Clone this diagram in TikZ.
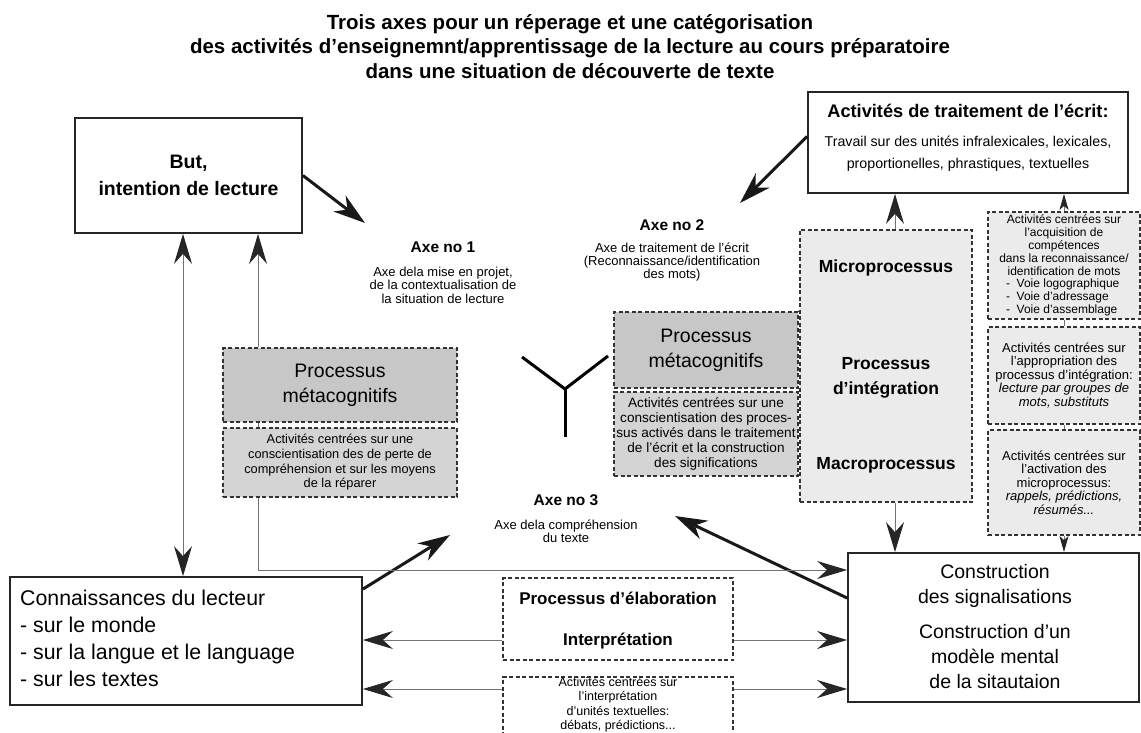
\documentclass[tikz,border=0pt]{standalone}
\usepackage{fontspec}
\setmainfont{Liberation Sans}
\usetikzlibrary{arrows.meta,calc}

\tikzset{
  box/.style={draw=black!85, line width=1.8pt, fill=white, inner sep=0pt},
  dbox/.style={draw=black!80, line width=1.3pt, dash pattern=on 4pt off 2.5pt, inner sep=0pt},
  darkbox/.style={dbox, fill=black!22},
  shadebox/.style={dbox, fill=black!17},
  lightbox/.style={dbox, fill=black!8},
  txt/.style={inner sep=0pt, align=center},
  link/.style={draw=black!55, line width=1pt},
  bigtip/.tip={Stealth[length=32pt,width=20pt,inset=10pt]},
  thintip/.tip={Stealth[length=30pt,width=18pt,inset=10pt,color=black!85]},
  smalltip/.tip={Stealth[length=16pt,width=9pt,inset=4pt,color=black!85]},
  bigarrow/.style={draw=black!90, line width=3pt, -bigtip},
  thinarrow/.style={link, -thintip},
}

\begin{document}
\begin{tikzpicture}[x=1pt,y=-1pt]
  \useasboundingbox (0,0) rectangle (1141,733);
  \clip (0,0) rectangle (1141,733);

  % titre
  \node[txt, font=\fontsize{20.5}{24.5}\selectfont\bfseries] (title) at (570,46.5)
    {Trois axes pour un réperage et une catégorisation\\
     des activités d’enseignemnt/apprentissage de la lecture au cours préparatoire\\
     dans une situation de découverte de texte};

  % boites principales
  \node[box, minimum width=227pt, minimum height=115pt] (but) at (188.5,175.5) {};
  \node[txt, font=\fontsize{19.5}{27}\selectfont\bfseries] at (but) {But,\\intention de lecture};

  \node[box, minimum width=320pt, minimum height=101pt] (trait) at (968,142.5) {};
  \node[txt, font=\fontsize{18.2}{20}\selectfont\bfseries] at (968,111) {Activités de traitement de l’écrit:};
  \node[txt, font=\fontsize{14.2}{22}\selectfont] at (968,154)
    {Travail sur des unités infralexicales, lexicales,\\proportionelles, phrastiques, textuelles};

  \node[box, minimum width=352pt, minimum height=128pt] (conn) at (186,641) {};
  \node[txt, align=left, anchor=west, font=\fontsize{21.3}{27}\selectfont] at (20,638.5)
    {Connaissances du lecteur\\- sur le monde\\- sur la langue et le language\\- sur les textes};

  \node[box, minimum width=291pt, minimum height=149pt] (constr) at (993.5,627.5) {};
  \node[txt, font=\fontsize{19.5}{25}\selectfont] at (995,585.5) {Construction\\des signalisations};
  \node[txt, font=\fontsize{19.5}{25}\selectfont] at (995,657) {Construction d’un\\modèle mental\\de la sitautaion};

  % processus
  \node[lightbox, minimum width=172pt, minimum height=272pt] (micro) at (886,366) {};
  \node[txt, font=\fontsize{17.5}{20}\selectfont\bfseries] at (886,268) {Microprocessus};
  \node[txt, font=\fontsize{17.5}{25}\selectfont\bfseries] at (886,377.5) {Processus\\d’intégration};
  \node[txt, font=\fontsize{17.5}{20}\selectfont\bfseries] at (886,465) {Macroprocessus};

  \node[lightbox, minimum width=152pt, minimum height=107pt] (ra) at (1064,265.5) {};
  \node[txt, font=\fontsize{12}{12.8}\selectfont] at (ra)
    {Activités centrées sur\\l’acquisition de\\compétences\\dans la reconnaissance/\\identification de mots\\
     \makebox[116pt][l]{-\ \ Voie logographique}\\
     \makebox[116pt][l]{-\ \ Voie d’adressage}\\
     \makebox[116pt][l]{-\ \ Voie d’assemblage}};
  \node[lightbox, minimum width=152pt, minimum height=97pt] (rb) at (1064,375.5) {};
  \node[txt, font=\fontsize{13}{13.5}\selectfont] at (rb)
    {Activités centrées sur\\l’appropriation des\\processus d’intégration:\\
     \textit{lecture par groupes de}\\\textit{mots, substituts}};
  \node[lightbox, minimum width=152pt, minimum height=105pt] (rc) at (1064,482.5) {};
  \node[txt, font=\fontsize{13}{13.5}\selectfont] at (rc)
    {Activités centrées sur\\l’activation des\\microprocessus:\\
     \textit{rappels, prédictions,}\\\textit{résumés...}};

  \node[darkbox, minimum width=234pt, minimum height=74pt] (gone) at (340,385) {};
  \node[txt, font=\fontsize{19.5}{25}\selectfont] at (gone) {Processus\\métacognitifs};
  \node[shadebox, minimum width=234pt, minimum height=69pt] (gonea) at (340,462.5) {};
  \node[txt, font=\fontsize{12.8}{14.6}\selectfont] at (gonea)
    {Activités centrées sur une\\conscientisation des de perte de\\compréhension et sur les moyens\\de la réparer};

  \node[darkbox, minimum width=184pt, minimum height=76pt] (gtwo) at (706,350) {};
  \node[txt, font=\fontsize{19.5}{25}\selectfont] at (gtwo) {Processus\\métacognitifs};
  \node[shadebox, minimum width=184pt, minimum height=84pt] (gtwob) at (706,434) {};
  \node[txt, font=\fontsize{13.6}{15}\selectfont] at (gtwob)
    {Activités centrées sur une\\conscientisation des proces-\\sus activés dans le traitement\\de l’écrit et la construction\\des significations};

  \node[dbox, fill=white, minimum width=230pt, minimum height=82pt] (elab) at (618,619) {};
  \node[txt, font=\fontsize{17}{20}\selectfont\bfseries] at (618,598) {Processus d’élaboration};
  \node[txt, font=\fontsize{17}{20}\selectfont\bfseries] at (618,641) {Interprétation};
  \node[dbox, fill=white, minimum width=230pt, minimum height=70pt] (interp) at (618,712) {};
  \node[txt, font=\fontsize{12.5}{14.5}\selectfont] at (618,704.5)
    {Activités centrées sur\\l’interprétation\\d’unités textuelles:\\débats, prédictions...};

  % les trois axes
  \node[txt, font=\fontsize{15.5}{18}\selectfont\bfseries] (axeone) at (443,247) {Axe no 1};
  \node[txt, font=\fontsize{13}{13.4}\selectfont] at (443,285)
    {Axe dela mise en projet,\\de la contextualisation de\\la situation de lecture};
  \node[txt, font=\fontsize{15.5}{18}\selectfont\bfseries] (axetwo) at (672,225) {Axe no 2};
  \node[txt, font=\fontsize{13}{13.4}\selectfont] at (672,262)
    {Axe de traitement de l’écrit\\(Reconnaissance/identification\\des mots)};
  \node[txt, font=\fontsize{15.5}{18}\selectfont\bfseries] (axethree) at (566,500) {Axe no 3};
  \node[txt, font=\fontsize{13}{13.4}\selectfont] at (566,531)
    {Axe dela compréhension\\du texte};

  \draw[line width=3pt] (522,357) -- (565,389) -- (608,356);
  \draw[line width=3pt] (565,389) -- (565,437);

  % points de repere
  \coordinate (tipone) at (365,223);
  \coordinate (tiptwo) at (740,203);
  \coordinate (tipthreel) at (450,535);
  \coordinate (tipthreer) at (675,516);
  \coordinate (gl) at (258,0);
  \coordinate (dl) at (183,0);
  \coordinate (mx) at (895,0);
  \coordinate (lowline) at (0,570);
  \coordinate (midline) at (0,640);
  \coordinate (botline) at (0,689);

  % fleches epaisses
  \draw[bigarrow] (but.east) -- (tipone);
  \draw[bigarrow] ([yshift=6pt]trait.west) -- (tiptwo);
  \draw[bigarrow] ([yshift=-13pt]conn.north east) -- (tipthreel);
  \draw[bigarrow] ([yshift=29.5pt]constr.west) -- (tipthreer);

  % liens
  \draw[link, thintip-thintip] (but.south -| dl) -- (conn.north -| dl);
  \draw[thinarrow] (gone.north -| gl) -- (but.south -| gl);
  \draw[link] (gone.south -| gl) -- (gonea.north -| gl);
  \draw[thinarrow] (gonea.south -| gl) |- (constr.west |- lowline);
  \draw[thinarrow] (elab.west |- midline) -- (conn.east |- midline);
  \draw[thinarrow] (elab.east |- midline) -- (constr.west |- midline);
  \draw[thinarrow] (interp.west |- botline) -- (conn.east |- botline);
  \draw[thinarrow] (interp.east |- botline) -- (constr.west |- botline);
  \draw[thinarrow] (micro.north -| mx) -- (trait.south -| mx);
  \draw[thinarrow] (micro.south -| mx) -- (constr.north -| mx);
  \draw[link, -smalltip] (ra.north) -- (trait.south -| ra.north);
  \draw[link] (ra.south) -- (rb.north);
  \draw[link] (rb.south) -- (rc.north);
  \draw[link, -smalltip] (rc.south) -- (constr.north -| rc.south);
\end{tikzpicture}
\end{document}
